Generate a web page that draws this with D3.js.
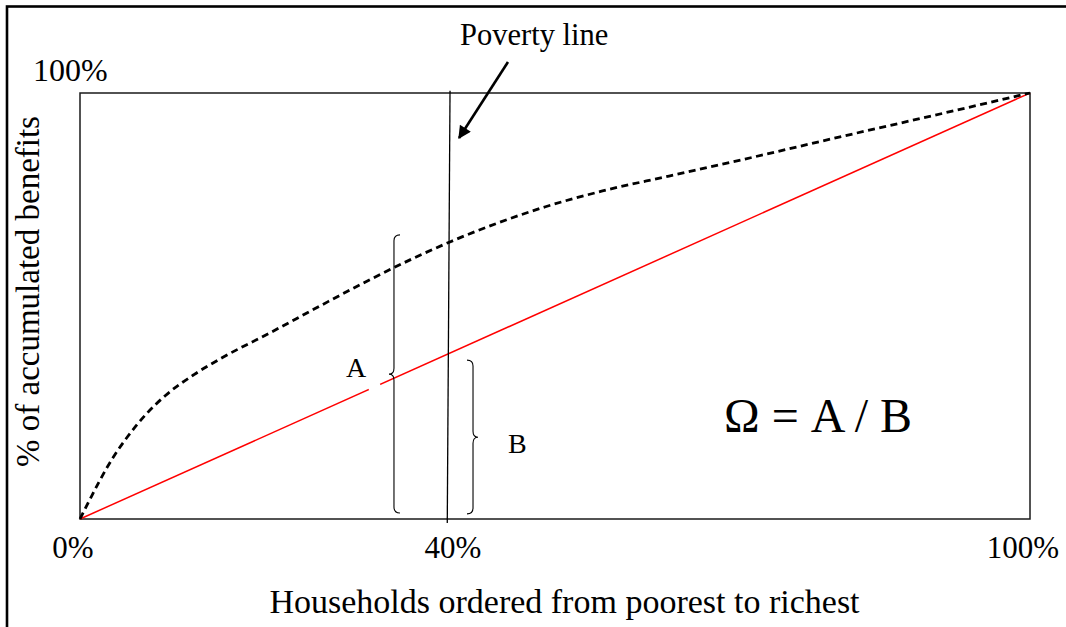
<!DOCTYPE html>
<html>
<head>
<meta charset="utf-8">
<script src="https://cdnjs.cloudflare.com/ajax/libs/d3/7.8.5/d3.min.js"></script>
<style>
  html, body { margin: 0; padding: 0; background: #fff; }
  svg { display: block; }
  text { font-family: "Liberation Serif", "Times New Roman", serif; fill: #000; }
</style>
</head>
<body>
<svg id="chart" width="1066" height="627"></svg>
<script>
// ---- data ----
const xTicks = [0, 0.4, 1];
const xTickLabels = ["0%", "40%", "100%"];
const yTopLabel = "100%";
const xTitle = "Households ordered from poorest to richest";
const yTitle = "% of accumulated benefits";

// concentration curve (dashed)
const curveX = [0, 0.01, 0.02, 0.035, 0.05, 0.07, 0.09, 0.12, 0.15, 0.20, 0.25, 0.30, 0.35, 0.39, 0.44, 0.49, 0.55, 0.62, 0.70, 0.80, 0.90, 1];
const curveY = [0, 0.044, 0.087, 0.145, 0.193, 0.247, 0.290, 0.339, 0.379, 0.437, 0.497, 0.556, 0.611, 0.651, 0.695, 0.733, 0.770, 0.805, 0.845, 0.897, 0.948, 1];

// line of equality (red)
const equalityX = [0, 1];
const equalityY = [0, 1];
const equalityGap = [0.304, 0.316];

// poverty line (slightly slanted in the original)
const povertyX = [0.3895, 0.3866];
const povertyY = [1.005, -0.0094];
const povertyLabel = "Poverty line";
const arrowFrom = [0.4505, 1.0728];
const arrowTo = [0.399, 0.8944];

// braces: [x, yTop, yBottom, yTip]
const braceA = [0.3305, 0.667, 0.014, 0.340];
const braceB = [0.4137, 0.373, 0.012, 0.192];
const labelA = "A";
const labelB = "B";
const formula = "\u03A9 = A / B";

// ---- layout ----
const svg = d3.select("#chart");
const box = { left: 80, right: 1030, top: 93, bottom: 519 };
const x = d3.scaleLinear().domain([0, 1]).range([box.left, box.right]);
const y = d3.scaleLinear().domain([0, 1]).range([box.bottom, box.top]);

// outer frame (only top and left visible)
svg.append("rect")
  .attr("x", 7).attr("y", 6.5)
  .attr("width", 1100).attr("height", 700)
  .attr("fill", "none").attr("stroke", "#000").attr("stroke-width", 2.6);

// plot box
svg.append("rect")
  .attr("x", x(0)).attr("y", y(1))
  .attr("width", x(1) - x(0)).attr("height", y(0) - y(1))
  .attr("fill", "none").attr("stroke", "#1a1a1a").attr("stroke-width", 1.5);

// equality line
const line = d3.line().x(d => x(d[0])).y(d => y(d[1]));
svg.append("path")
  .datum(d3.zip(equalityX, equalityY))
  .attr("d", line)
  .attr("fill", "none").attr("stroke", "#ff0000").attr("stroke-width", 1.5);
svg.append("path")
  .datum(equalityGap.map(v => [v, v]))
  .attr("d", line)
  .attr("fill", "none").attr("stroke", "#fff").attr("stroke-width", 4);

// concentration curve
const curveLine = d3.line().x(d => x(d[0])).y(d => y(d[1])).curve(d3.curveMonotoneX);
svg.append("path")
  .datum(d3.zip(curveX, curveY))
  .attr("d", curveLine)
  .attr("fill", "none").attr("stroke", "#000").attr("stroke-width", 2.8)
  .attr("stroke-dasharray", "7,4.5");

// poverty line
svg.append("path")
  .datum(d3.zip(povertyX, povertyY))
  .attr("d", line)
  .attr("fill", "none").attr("stroke", "#000").attr("stroke-width", 1.3);

// arrow
svg.append("defs").append("marker")
  .attr("id", "arrowhead")
  .attr("viewBox", "0 0 10 10")
  .attr("refX", 9).attr("refY", 5)
  .attr("markerWidth", 6).attr("markerHeight", 5)
  .attr("markerUnits", "strokeWidth")
  .attr("orient", "auto")
  .append("path").attr("d", "M0,0 L10,5 L0,10 Z").attr("fill", "#000");
svg.append("path")
  .datum([arrowFrom, arrowTo])
  .attr("d", line)
  .attr("fill", "none").attr("stroke", "#000").attr("stroke-width", 2.6)
  .attr("marker-end", "url(#arrowhead)");

// braces
function bracePath(bx, yTop, yBot, yTip, dir) {
  // dir = -1 tip to the left ("{"), +1 tip to the right ("}")
  const hook = bx - dir * 6, tip = bx + dir * 5, r = 6;
  return `M${hook},${yTop} Q${bx},${yTop} ${bx},${yTop + r} ` +
         `L${bx},${yTip - r} Q${bx},${yTip} ${tip},${yTip} ` +
         `Q${bx},${yTip} ${bx},${yTip + r} ` +
         `L${bx},${yBot - r} Q${bx},${yBot} ${hook},${yBot}`;
}
svg.append("path")
  .attr("d", bracePath(x(braceA[0]), y(braceA[1]), y(braceA[2]), y(braceA[3]), -1))
  .attr("fill", "none").attr("stroke", "#000").attr("stroke-width", 1.1);
svg.append("path")
  .attr("d", bracePath(x(braceB[0]), y(braceB[1]), y(braceB[2]), y(braceB[3]), 1))
  .attr("fill", "none").attr("stroke", "#000").attr("stroke-width", 1.1);

// tick labels
svg.selectAll(".xtick").data(xTicks).enter().append("text")
  .attr("class", "xtick")
  .attr("x", d => x(d) - 7).attr("y", 558)
  .attr("text-anchor", "middle").attr("font-size", 31)
  .text((d, i) => xTickLabels[i]);
svg.append("text")
  .attr("x", 33).attr("y", 81)
  .attr("font-size", 32)
  .text(yTopLabel);

// titles
svg.append("text")
  .attr("x", 564.5).attr("y", 613)
  .attr("text-anchor", "middle").attr("font-size", 34)
  .text(xTitle);
svg.append("text")
  .attr("transform", "translate(39,291.5) rotate(-90)")
  .attr("text-anchor", "middle").attr("font-size", 33)
  .text(yTitle);

// annotations
svg.append("text").attr("x", 460).attr("y", 45).attr("font-size", 30.5).text(povertyLabel);
svg.append("text").attr("x", 346).attr("y", 377).attr("font-size", 28).text(labelA);
svg.append("text").attr("x", 508).attr("y", 453).attr("font-size", 28).text(labelB);
svg.append("text").attr("x", 724).attr("y", 432).attr("font-size", 48).text(formula);
</script>
</body>
</html>
